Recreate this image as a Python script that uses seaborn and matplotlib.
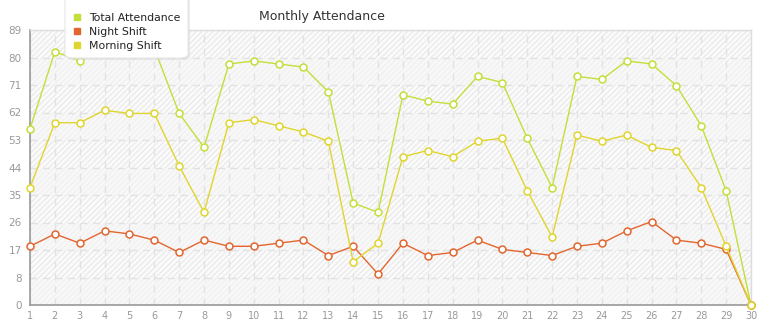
import matplotlib
matplotlib.use("Agg")
import matplotlib.pyplot as plt
from matplotlib.patches import FancyBboxPatch
from matplotlib.lines import Line2D
import seaborn as sns
import pandas as pd
import numpy as np

days = list(range(1, 31))
night_shift = [19, 23, 20, 24, 23, 21, 17, 21, 19, 19, 20, 21, 16, 19, 10,
               20, 16, 17, 21, 18, 17, 16, 19, 20, 24, 27, 21, 20, 18, 0]
morning_shift = [38, 59, 59, 63, 62, 62, 45, 30, 59, 60, 58, 56, 53, 14, 20,
                 48, 50, 48, 53, 54, 37, 22, 55, 53, 55, 51, 50, 38, 19, 0]
total_attendance = [57, 82, 79, 87, 85, 83, 62, 51, 78, 79, 78, 77, 69, 33, 30,
                    68, 66, 65, 74, 72, 54, 38, 74, 73, 79, 78, 71, 58, 37, 0]
series_names = ["Total Attendance", "Night Shift", "Morning Shift"]
colors = {"Total Attendance": "#c3df3a", "Night Shift": "#e2662f", "Morning Shift": "#e0d52e"}
y_max = 89
y_ticks = [i * 8.9 for i in range(11)]
y_labels = [str(int(np.floor(v + 1e-9))) for v in y_ticks]
title = "Monthly Attendance"

df = pd.DataFrame({
    "day": days * 3,
    "value": total_attendance + night_shift + morning_shift,
    "series": [series_names[0]] * 30 + [series_names[1]] * 30 + [series_names[2]] * 30,
})

sns.set_style("white")
plt.rcParams["font.family"] = ["DejaVu Sans"]

W, H = 765, 320
fig = plt.figure(figsize=(7.65, 3.2), dpi=100)
ax = fig.add_axes([30 / W, 15 / H, 721 / W, 275 / H])

# background bands
ax.set_facecolor("#ffffff")
for i in range(10):
    lo, hi = y_ticks[i], y_ticks[i + 1]
    if i % 2 == 1:
        ax.axhspan(lo, hi, facecolor="#fbfbfb", edgecolor="#ebebeb", hatch="//////", lw=0, zorder=0)
    else:
        ax.axhspan(lo, hi, facecolor="#f8f8f8", edgecolor="#f1f1f1", hatch="//////", lw=0, zorder=0)

for name in ["Total Attendance", "Night Shift", "Morning Shift"]:
    sub = df[df["series"] == name]
    sns.lineplot(data=sub, x="day", y="value", ax=ax, color=colors[name], lw=1,
                 marker="o", markersize=5, markerfacecolor="white",
                 markeredgecolor=colors[name], markeredgewidth=1.1,
                 clip_on=False, zorder=3, legend=False)

ax.set_xlim(1, 30)
ax.set_ylim(0, y_max)
ax.set_xticks(days)
ax.set_xticklabels([str(d) for d in days])
ax.set_yticks(y_ticks)
ax.set_yticklabels(y_labels)
ax.set_xlabel("")
ax.set_ylabel("")
ax.grid(True, color="#e2e2e2", linestyle=(0, (5, 4)), lw=1, zorder=1)
ax.set_axisbelow(True)

for s in ["top", "right"]:
    ax.spines[s].set_color("#dddddd")
    ax.spines[s].set_linewidth(1)
for s in ["left", "bottom"]:
    ax.spines[s].set_color("#999999")
    ax.spines[s].set_linewidth(1.2)

ax.tick_params(axis="both", colors="#999999", labelcolor="#999999", labelsize=7.5,
               length=4, width=1)
ax.tick_params(axis="y", length=4, pad=2)
ax.tick_params(axis="x", length=3, pad=1, labelsize=7)

fig.text(0.421, 0.947, title, ha="center", va="center", fontsize=9, color="#333333")

# legend box (extends above the top edge)
shadow = FancyBboxPatch((67 / W, 1 - 60 / H), 123 / W, 80 / H,
                        boxstyle="round,pad=0,rounding_size=0.012",
                        transform=fig.transFigure, facecolor="#d8d8d8",
                        edgecolor="none", alpha=0.5, zorder=9)
box = FancyBboxPatch((65 / W, 1 - 58 / H), 123 / W, 80 / H,
                     boxstyle="round,pad=0,rounding_size=0.012",
                     transform=fig.transFigure, facecolor="white",
                     edgecolor="#e6e6e6", lw=0.8, zorder=10)
fig.patches.extend([shadow, box])

handles = [Line2D([0], [0], marker="s", color="none", markerfacecolor=colors[n],
                  markeredgecolor=colors[n], markersize=5) for n in series_names]
leg = fig.legend(handles, series_names, loc="upper left",
                 bbox_to_anchor=(72 / W, 1 - 13 / H), frameon=False,
                 fontsize=7.8, handlelength=1.0, handletextpad=0.6,
                 labelspacing=0.38, borderpad=0, borderaxespad=0)
for t in leg.get_texts():
    t.set_color("#222222")
leg.set_zorder(11)

fig.savefig("out.png", dpi=100)
